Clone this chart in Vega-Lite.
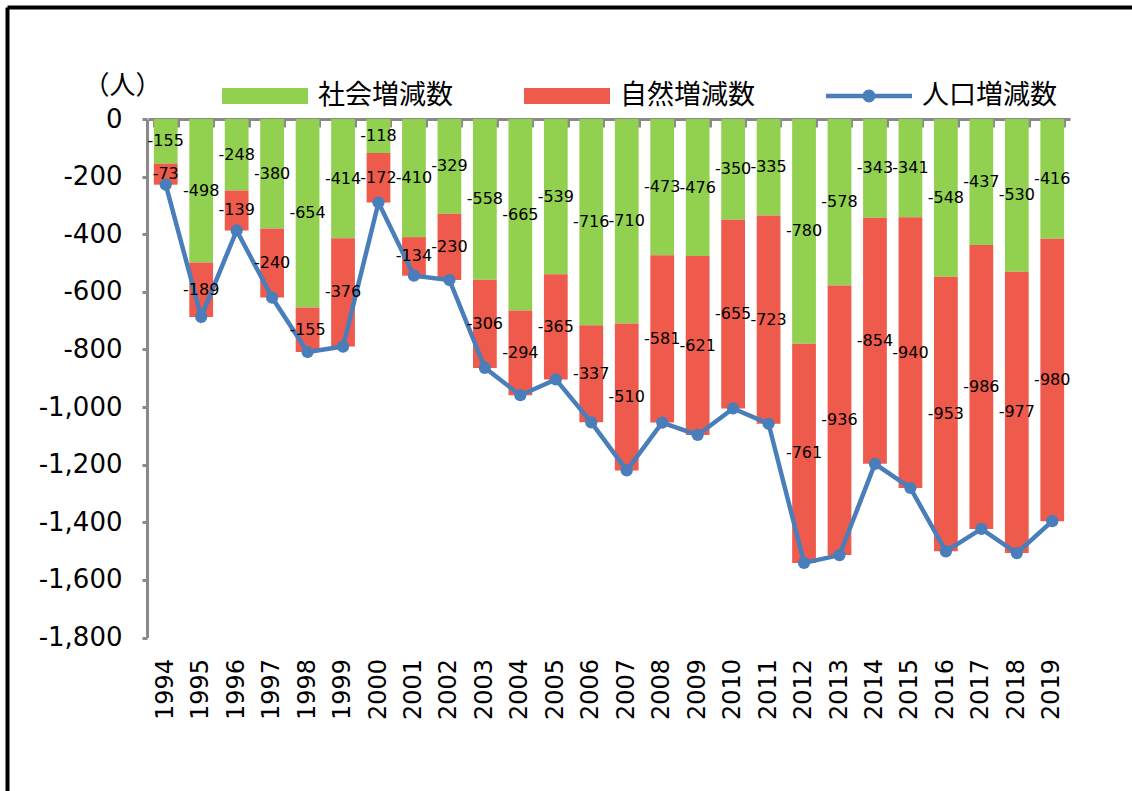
{
  "$schema": "https://vega.github.io/schema/vega-lite/v6.json",
  "width": 1125,
  "height": 784,
  "autosize": {"type": "none"},
  "padding": {"left": 7, "top": 7, "right": 0, "bottom": 0},
  "background": "white",
  "config": {"view": {"stroke": null}},
  "data": {"values": [
    {"year": "1994", "kind": "社会増減数", "value": -155}, {"year": "1994", "kind": "自然増減数", "value": -73},
    {"year": "1995", "kind": "社会増減数", "value": -498}, {"year": "1995", "kind": "自然増減数", "value": -189},
    {"year": "1996", "kind": "社会増減数", "value": -248}, {"year": "1996", "kind": "自然増減数", "value": -139},
    {"year": "1997", "kind": "社会増減数", "value": -380}, {"year": "1997", "kind": "自然増減数", "value": -240},
    {"year": "1998", "kind": "社会増減数", "value": -654}, {"year": "1998", "kind": "自然増減数", "value": -155},
    {"year": "1999", "kind": "社会増減数", "value": -414}, {"year": "1999", "kind": "自然増減数", "value": -376},
    {"year": "2000", "kind": "社会増減数", "value": -118}, {"year": "2000", "kind": "自然増減数", "value": -172},
    {"year": "2001", "kind": "社会増減数", "value": -410}, {"year": "2001", "kind": "自然増減数", "value": -134},
    {"year": "2002", "kind": "社会増減数", "value": -329}, {"year": "2002", "kind": "自然増減数", "value": -230},
    {"year": "2003", "kind": "社会増減数", "value": -558}, {"year": "2003", "kind": "自然増減数", "value": -306},
    {"year": "2004", "kind": "社会増減数", "value": -665}, {"year": "2004", "kind": "自然増減数", "value": -294},
    {"year": "2005", "kind": "社会増減数", "value": -539}, {"year": "2005", "kind": "自然増減数", "value": -365},
    {"year": "2006", "kind": "社会増減数", "value": -716}, {"year": "2006", "kind": "自然増減数", "value": -337},
    {"year": "2007", "kind": "社会増減数", "value": -710}, {"year": "2007", "kind": "自然増減数", "value": -510},
    {"year": "2008", "kind": "社会増減数", "value": -473}, {"year": "2008", "kind": "自然増減数", "value": -581},
    {"year": "2009", "kind": "社会増減数", "value": -476}, {"year": "2009", "kind": "自然増減数", "value": -621},
    {"year": "2010", "kind": "社会増減数", "value": -350}, {"year": "2010", "kind": "自然増減数", "value": -655},
    {"year": "2011", "kind": "社会増減数", "value": -335}, {"year": "2011", "kind": "自然増減数", "value": -723},
    {"year": "2012", "kind": "社会増減数", "value": -780}, {"year": "2012", "kind": "自然増減数", "value": -761},
    {"year": "2013", "kind": "社会増減数", "value": -578}, {"year": "2013", "kind": "自然増減数", "value": -936},
    {"year": "2014", "kind": "社会増減数", "value": -343}, {"year": "2014", "kind": "自然増減数", "value": -854},
    {"year": "2015", "kind": "社会増減数", "value": -341}, {"year": "2015", "kind": "自然増減数", "value": -940},
    {"year": "2016", "kind": "社会増減数", "value": -548}, {"year": "2016", "kind": "自然増減数", "value": -953},
    {"year": "2017", "kind": "社会増減数", "value": -437}, {"year": "2017", "kind": "自然増減数", "value": -986},
    {"year": "2018", "kind": "社会増減数", "value": -530}, {"year": "2018", "kind": "自然増減数", "value": -977},
    {"year": "2019", "kind": "社会増減数", "value": -416}, {"year": "2019", "kind": "自然増減数", "value": -980}
  ]},
  "layer": [
    {
      "layer": [
        {
          "transform": [
            {"stack": "value", "groupby": ["year"], "sort": [{"field": "kind", "order": "ascending"}], "as": ["v0", "v1"]}
          ],
          "mark": {"type": "bar"},
          "encoding": {
            "x": {
              "field": "year", "type": "ordinal", "title": null,
              "scale": {"range": [141, 1063], "paddingInner": 0.33, "paddingOuter": 0.165},
              "axis": {"orient": "bottom", "offset": -153.5, "domain": false, "ticks": false, "tickSize": 0, "labelAngle": 270, "labelPadding": 21, "labelFont": "DejaVu Sans", "labelFontSize": 24, "labelColor": "black"}
            },
            "y": {
              "field": "v0", "type": "quantitative", "title": "（人）",
              "scale": {"domain": [-1800, 0], "range": [630.5, 112], "nice": false},
              "axis": {
                "orient": "left", "offset": -140, "values": [-1800, -1600, -1400, -1200, -1000, -800, -600, -400, -200, 0],
                "grid": false, "domainColor": "#898989", "domainWidth": 3, "tickColor": "#898989", "tickWidth": 3, "tickSize": 5,
                "labelFont": "DejaVu Sans", "labelFontSize": 26, "labelColor": "black", "labelPadding": 20,
                "labelExpr": "replace(format(datum.value, ','), '−', '-')",
                "titleAngle": 0, "titleX": -25, "titleY": 78, "titleAlign": "center", "titleBaseline": "middle",
                "titleFont": "Noto Sans CJK JP", "titleFontSize": 26, "titleFontWeight": "normal", "titleColor": "black"
              }
            },
            "y2": {"field": "v1"},
            "color": {
              "field": "kind", "type": "nominal",
              "scale": {"domain": ["社会増減数", "自然増減数", "人口増減数"], "range": ["#92D050", "#EE5A4B", "#4A7EBB"]},
              "legend": {
                "orient": "none", "legendX": 215, "legendY": 46, "direction": "horizontal", "columns": 3, "title": null,
                "labelFont": "Noto Sans CJK JP", "labelFontSize": 27, "labelColor": "black", "labelOffset": 10,
                "symbolSize": 7396, "columnPadding": 71, "padding": 0, "symbolStrokeWidth": 0, "symbolOpacity": 1,
                "labelLimit": 400,
                "encode": {"symbols": {"update": {"shape": {"signal": "datum.label === '人口増減数' ? 'M-1,-0.05H1V0.05H-1Z M0.15,0A0.15,0.15 0 1,1 -0.15,0A0.15,0.15 0 1,1 0.15,0Z' : 'M-1,-0.186H1V0.186H-1Z'"}}}}
              }
            }
          }
        },
        {
          "transform": [{"aggregate": [{"op": "sum", "field": "value", "as": "total"}], "groupby": ["year"]}],
          "layer": [
            {
              "mark": {"type": "line", "color": "#4A7EBB", "strokeWidth": 4.5},
              "encoding": {
                "x": {"field": "year", "type": "ordinal", "title": null},
                "y": {"field": "total", "type": "quantitative", "title": "（人）"}
              }
            },
            {
              "mark": {"type": "point", "filled": true, "size": 150, "color": "#4A7EBB", "opacity": 1},
              "encoding": {
                "x": {"field": "year", "type": "ordinal", "title": null},
                "y": {"field": "total", "type": "quantitative", "title": "（人）"}
              }
            }
          ]
        },
        {
          "transform": [
            {"stack": "value", "groupby": ["year"], "sort": [{"field": "kind", "order": "ascending"}], "as": ["v0", "v1"]},
            {"calculate": "(datum.v0 + datum.v1) / 2", "as": "mid"}
          ],
          "mark": {"type": "text", "font": "DejaVu Sans", "fontSize": 16, "color": "black", "align": "center", "baseline": "middle"},
          "encoding": {
            "x": {"field": "year", "type": "ordinal", "title": null},
            "y": {"field": "mid", "type": "quantitative", "title": "（人）"},
            "text": {"field": "value", "type": "nominal"}
          }
        }
      ]
    },
    {
      "mark": {"type": "rule", "opacity": 0},
      "encoding": {
        "x": {
          "field": "year", "type": "ordinal", "title": null,
          "scale": {"range": [141, 1063], "paddingInner": 0.33, "paddingOuter": 0.165},
          "axis": {"orient": "top", "offset": -112, "labels": false, "tickBand": "extent", "tickSize": -8, "tickColor": "#898989", "tickWidth": 3, "domainColor": "#898989", "domainWidth": 3, "grid": false}
        }
      }
    },
    {
      "data": {"values": [{"fx": 0, "fy": 0}]},
      "mark": {"type": "point", "opacity": 0},
      "encoding": {
        "x": {"field": "fx", "type": "quantitative", "title": null, "scale": {"domain": [0, 1], "nice": false},
              "axis": {"orient": "top", "domainColor": "black", "domainWidth": 4, "labels": false, "ticks": false, "grid": false}},
        "y": {"field": "fy", "type": "quantitative", "title": null, "scale": {"domain": [0, 1], "nice": false},
              "axis": {"orient": "left", "domainColor": "black", "domainWidth": 4, "labels": false, "ticks": false, "grid": false}}
      }
    }
  ],
  "resolve": {"scale": {"x": "independent", "y": "independent"}, "axis": {"x": "independent", "y": "independent"}}
}
